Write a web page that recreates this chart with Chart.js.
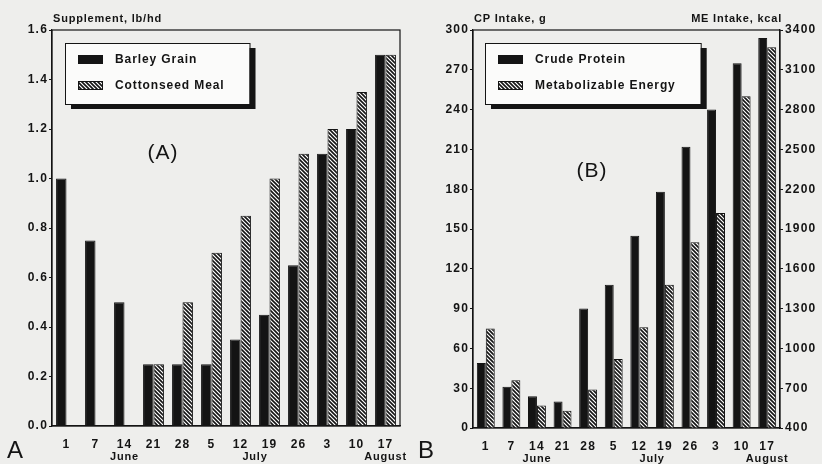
<!DOCTYPE html>
<html>
<head>
<meta charset="utf-8">
<script src="https://cdn.jsdelivr.net/npm/chart.js@4"></script>
<style>
  html, body { margin: 0; padding: 0; background: #eeeeec; }
  #wrap { position: relative; width: 822px; height: 464px; }
  .panel { position: absolute; top: 0; width: 411px; height: 464px; }
</style>
</head>
<body>
<div id="wrap">
  <div class="panel" style="left:0"><canvas id="chartA"></canvas></div>
  <div class="panel" style="left:411px"><canvas id="chartB"></canvas></div>
</div>
<script>
// sampling dates (day of month)
const days = ["1", "7", "14", "21", "28", "5", "12", "19", "26", "3", "10", "17"];
// month name, and the days it is written under
const months = [["June", "14"], ["July", "12", "19"], ["August", "17"]];

// panel A: supplement, lb/hd
const barley = [1.0, 0.75, 0.5, 0.25, 0.25, 0.25, 0.35, 0.45, 0.65, 1.1, 1.2, 1.5];
const cottonseed = [null, null, null, 0.25, 0.5, 0.7, 0.85, 1.0, 1.1, 1.2, 1.35, 1.5];
const supplementTicks = [0, 0.2, 0.4, 0.6, 0.8, 1.0, 1.2, 1.4, 1.6];

// panel B: intake
const crudeProtein = [49, 31, 24, 20, 90, 108, 145, 178, 212, 240, 275, 294];
const metabEnergy = [1150, 760, 570, 530, 690, 920, 1160, 1480, 1800, 2020, 2900, 3270];
const cpTicks = [0, 30, 60, 90, 120, 150, 180, 210, 240, 270, 300];
const meTicks = [400, 700, 1000, 1300, 1600, 1900, 2200, 2500, 2800, 3100, 3400];

const FONT = "'Liberation Sans', Arial, sans-serif";
const INK = "#141414";

function hatchPattern() {
  const c = document.createElement("canvas");
  c.width = 4; c.height = 4;
  const g = c.getContext("2d");
  g.fillStyle = "#fff";
  g.fillRect(0, 0, 4, 4);
  g.strokeStyle = INK;
  g.lineWidth = 1.6;
  g.beginPath();
  g.moveTo(0, 0); g.lineTo(4, 4);
  g.moveTo(-1, 3); g.lineTo(1, 5);
  g.moveTo(3, -1); g.lineTo(5, 1);
  g.stroke();
  return g.createPattern(c, "repeat");
}
const hatch = hatchPattern();

// frame, legend box with shadow, axis titles, month names, panel letters
function decorations(cfg) {
  return {
    id: "decor" + cfg.letter,
    beforeDraw(chart) {
      // the old typewriter-ish tick labels are widely spaced
      chart.ctx.letterSpacing = "1.2px";
    },
    afterDraw(chart) {
      const ctx = chart.ctx;
      const a = chart.chartArea;
      const x = chart.scales.x;
      ctx.save();

      ctx.strokeStyle = INK;
      ctx.lineWidth = 1.2;
      ctx.strokeRect(a.left, a.top, a.right - a.left, a.bottom - a.top);

      // legend
      ctx.font = "bold 12px " + FONT;
      ctx.letterSpacing = "0.9px";
      const items = chart.data.datasets;
      const tw = Math.max(...items.map(d => ctx.measureText(d.label).width));
      const bx = a.left + cfg.legendX, by = a.top + 13;
      const bw = 49 + tw + 26, bh = 61;
      ctx.fillStyle = INK;
      ctx.fillRect(bx + 6, by + 5, bw, bh);
      ctx.fillStyle = "#fbfbfa";
      ctx.fillRect(bx, by, bw, bh);
      ctx.lineWidth = 1;
      ctx.strokeRect(bx + 0.5, by + 0.5, bw, bh);
      items.forEach((d, i) => {
        const sy = by + 12 + i * 26;
        ctx.fillStyle = d.backgroundColor;
        ctx.fillRect(bx + 13, sy, 25, 9);
        ctx.strokeStyle = INK;
        ctx.strokeRect(bx + 13.5, sy + 0.5, 24, 8);
        ctx.fillStyle = INK;
        ctx.textBaseline = "middle";
        ctx.textAlign = "left";
        ctx.fillText(d.label, bx + 50, sy + 5);
      });

      // big panel tag inside the plot
      ctx.letterSpacing = "1px";
      ctx.font = "21px " + FONT;
      ctx.textAlign = "center";
      ctx.fillText(cfg.tag, a.left + cfg.tagX, a.top + cfg.tagY);

      // axis titles
      ctx.letterSpacing = "0.8px";
      ctx.font = "bold 11px " + FONT;
      ctx.textBaseline = "alphabetic";
      ctx.textAlign = "left";
      ctx.fillText(cfg.leftTitle, a.left + 1, a.top - 8);
      if (cfg.rightTitle) {
        ctx.textAlign = "right";
        ctx.fillText(cfg.rightTitle, a.right + 2, a.top - 8);
      }

      // month names under the day ticks
      ctx.font = "bold 11px " + FONT;
      ctx.textAlign = "center";
      ctx.textBaseline = "middle";
      months.forEach(m => {
        const px = m.slice(1).map(d => x.getPixelForValue(days.indexOf(d)));
        const cx = px.reduce((s, v) => s + v, 0) / px.length;
        ctx.fillText(m[0], cx, a.bottom + 31);
      });

      // panel letter
      ctx.letterSpacing = "0px";
      ctx.font = "24px " + FONT;
      ctx.textAlign = "left";
      ctx.fillText(cfg.letter, cfg.letterX, 451);
      ctx.restore();
    }
  };
}

const tickFont = { family: FONT, size: 12, weight: "bold" };

new Chart(document.getElementById("chartA"), {
  type: "bar",
  data: {
    labels: days,
    datasets: [
      { label: "Barley Grain", data: barley, backgroundColor: INK, borderColor: INK, borderWidth: 1 },
      { label: "Cottonseed Meal", data: cottonseed, backgroundColor: hatch, borderColor: INK, borderWidth: 1 }
    ]
  },
  options: {
    responsive: true,
    maintainAspectRatio: false,
    animation: false,
    layout: { padding: { top: 30, right: 11 } },
    datasets: { bar: { barPercentage: 1, categoryPercentage: 0.72 } },
    plugins: { legend: { display: false }, tooltip: { enabled: false } },
    scales: {
      x: {
        grid: { display: false },
        border: { color: INK, width: 1.2 },
        ticks: { color: INK, font: tickFont, padding: 3, maxRotation: 0, autoSkip: false },
        afterFit: s => { s.height = 38; }
      },
      y: {
        min: 0, max: 1.6,
        afterBuildTicks: s => { s.ticks = supplementTicks.map(v => ({ value: v })); },
        grid: { drawOnChartArea: false, tickLength: 3, color: INK },
        border: { color: INK, width: 1.2 },
        ticks: { color: INK, font: tickFont, padding: 1, callback: v => v.toFixed(1) },
        afterFit: s => { s.width = 52; }
      }
    }
  },
  plugins: [decorations({
    letter: "A", letterX: 7, tag: "(A)", tagX: 111, tagY: 123,
    legendX: 13, leftTitle: "Supplement, lb/hd"
  })]
});

new Chart(document.getElementById("chartB"), {
  type: "bar",
  data: {
    labels: days,
    datasets: [
      { label: "Crude Protein", data: crudeProtein, yAxisID: "y", backgroundColor: INK, borderColor: INK, borderWidth: 1 },
      { label: "Metabolizable Energy", data: metabEnergy, yAxisID: "y2", backgroundColor: hatch, borderColor: INK, borderWidth: 1 }
    ]
  },
  options: {
    responsive: true,
    maintainAspectRatio: false,
    animation: false,
    layout: { padding: { top: 30 } },
    datasets: { bar: { barPercentage: 1, categoryPercentage: 0.7 } },
    plugins: { legend: { display: false }, tooltip: { enabled: false } },
    scales: {
      x: {
        grid: { display: false },
        border: { color: INK, width: 1.2 },
        ticks: { color: INK, font: tickFont, padding: 3, maxRotation: 0, autoSkip: false },
        afterFit: s => { s.height = 36; }
      },
      y: {
        position: "left",
        min: 0, max: 300,
        afterBuildTicks: s => { s.ticks = cpTicks.map(v => ({ value: v })); },
        grid: { drawOnChartArea: false, tickLength: 3, color: INK },
        border: { color: INK, width: 1.2 },
        ticks: { color: INK, font: tickFont, padding: 1, callback: v => String(v) },
        afterFit: s => { s.width = 62; }
      },
      y2: {
        position: "right",
        min: 400, max: 3400,
        afterBuildTicks: s => { s.ticks = meTicks.map(v => ({ value: v })); },
        grid: { drawOnChartArea: false, tickLength: 3, color: INK },
        border: { color: INK, width: 1.2 },
        ticks: { color: INK, font: tickFont, padding: 2, callback: v => String(v) },
        afterFit: s => { s.width = 42; }
      }
    }
  },
  plugins: [decorations({
    letter: "B", letterX: 7, tag: "(B)", tagX: 119, tagY: 141,
    legendX: 12, leftTitle: "CP Intake, g", rightTitle: "ME Intake, kcal"
  })]
});
</script>
</body>
</html>
